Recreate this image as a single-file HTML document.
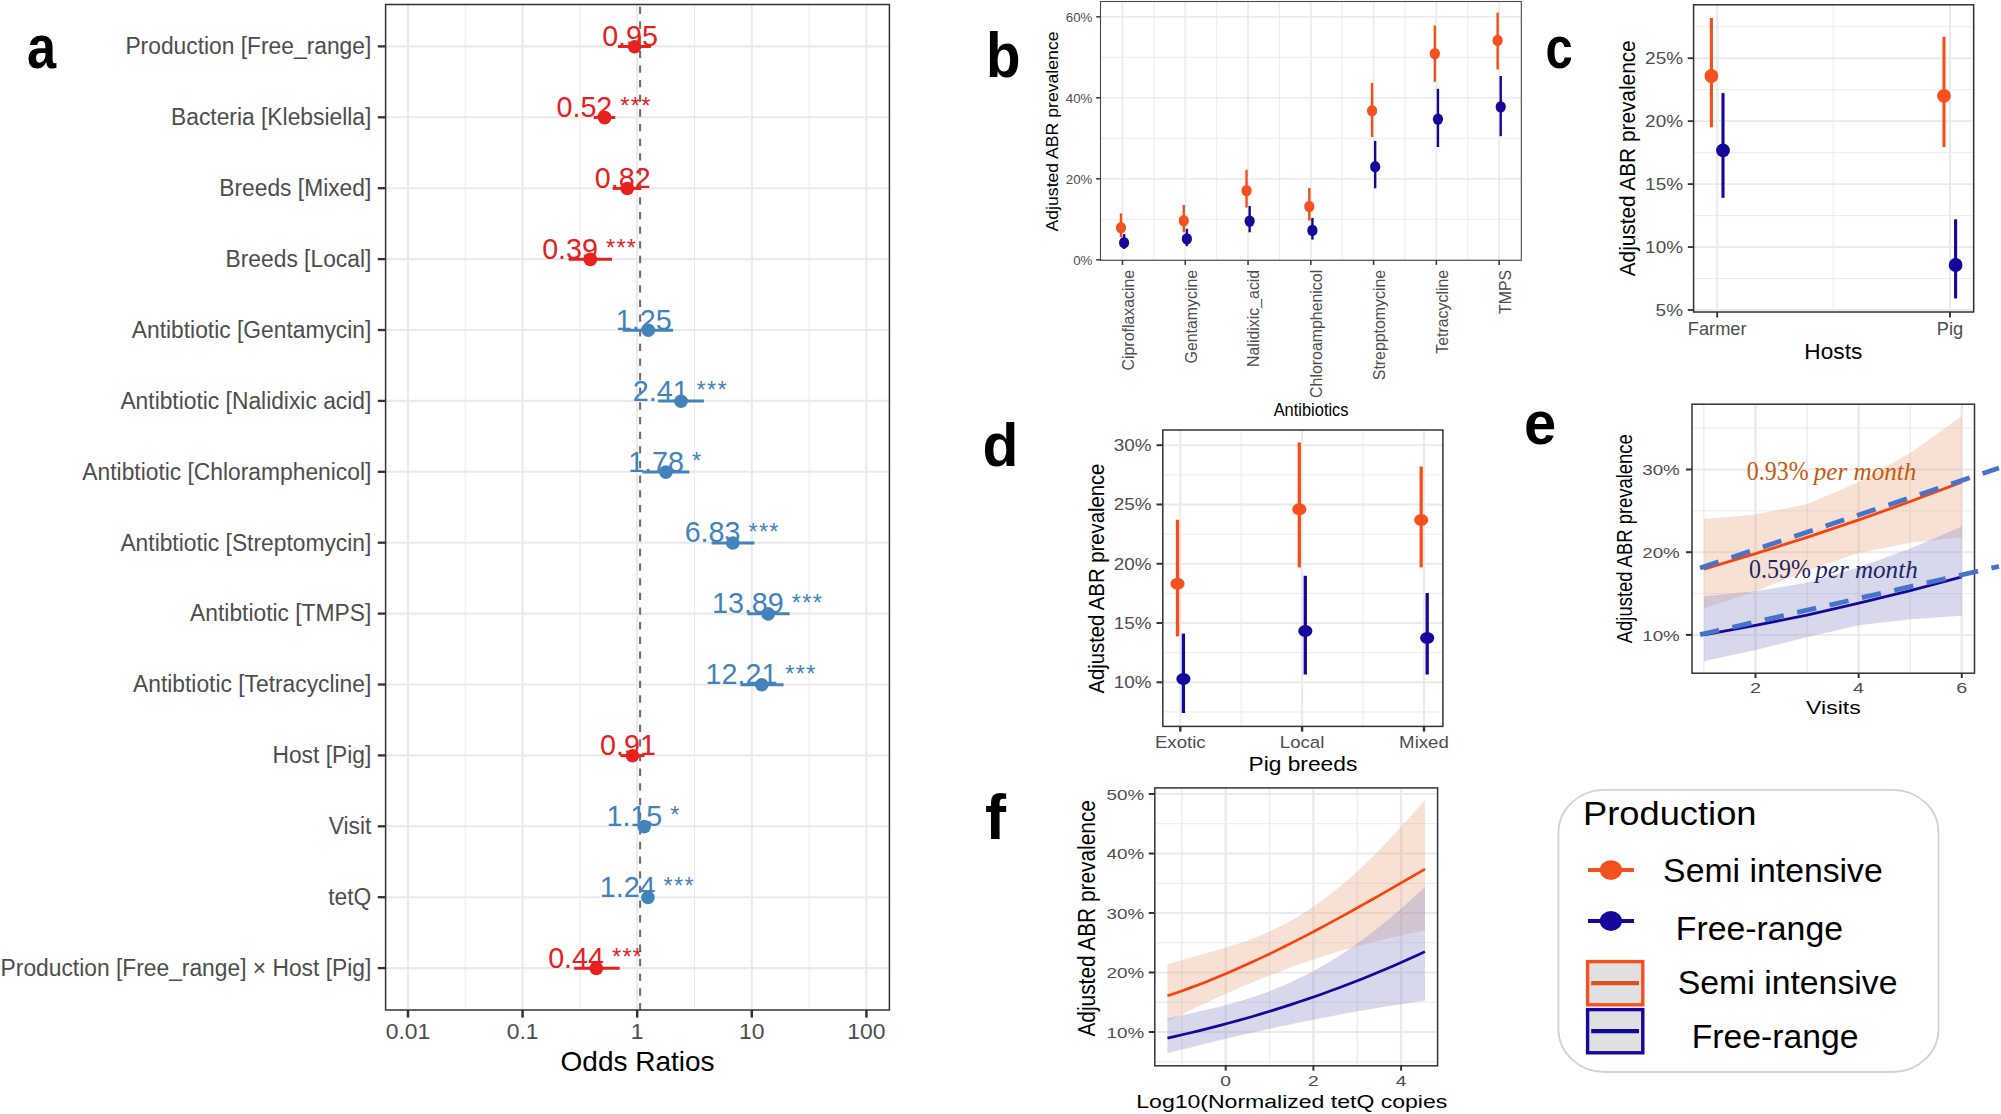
<!DOCTYPE html>
<html lang="en">
<head>
<meta charset="utf-8">
<title>Figure</title>
<style>
html,body{margin:0;padding:0;background:#fff;}
body{width:2001px;height:1114px;overflow:hidden;}
svg{display:block;font-family:"Liberation Sans", Arial, Helvetica, sans-serif;}
text{white-space:pre;}
</style>
</head>
<body>
<svg width="2001" height="1114" viewBox="0 0 2001 1114">
<rect width="2001" height="1114" fill="#ffffff"/>
<rect x="385.6" y="4.5" width="503.8" height="1005.5" fill="#fff"/>
<line x1="465.3" y1="4.5" x2="465.3" y2="1010" stroke="#eaeaea" stroke-width="1"/>
<line x1="579.9" y1="4.5" x2="579.9" y2="1010" stroke="#eaeaea" stroke-width="1"/>
<line x1="694.5" y1="4.5" x2="694.5" y2="1010" stroke="#eaeaea" stroke-width="1"/>
<line x1="809.1" y1="4.5" x2="809.1" y2="1010" stroke="#eaeaea" stroke-width="1"/>
<line x1="408" y1="4.5" x2="408" y2="1010" stroke="#eaeaea" stroke-width="2.1"/>
<line x1="522.6" y1="4.5" x2="522.6" y2="1010" stroke="#eaeaea" stroke-width="2.1"/>
<line x1="637.2" y1="4.5" x2="637.2" y2="1010" stroke="#eaeaea" stroke-width="2.1"/>
<line x1="751.8" y1="4.5" x2="751.8" y2="1010" stroke="#eaeaea" stroke-width="2.1"/>
<line x1="866.4" y1="4.5" x2="866.4" y2="1010" stroke="#eaeaea" stroke-width="2.1"/>
<line x1="385.6" y1="46.4" x2="889.4" y2="46.4" stroke="#eaeaea" stroke-width="2.1"/>
<line x1="385.6" y1="117.3" x2="889.4" y2="117.3" stroke="#eaeaea" stroke-width="2.1"/>
<line x1="385.6" y1="188.2" x2="889.4" y2="188.2" stroke="#eaeaea" stroke-width="2.1"/>
<line x1="385.6" y1="259.1" x2="889.4" y2="259.1" stroke="#eaeaea" stroke-width="2.1"/>
<line x1="385.6" y1="330" x2="889.4" y2="330" stroke="#eaeaea" stroke-width="2.1"/>
<line x1="385.6" y1="400.9" x2="889.4" y2="400.9" stroke="#eaeaea" stroke-width="2.1"/>
<line x1="385.6" y1="471.8" x2="889.4" y2="471.8" stroke="#eaeaea" stroke-width="2.1"/>
<line x1="385.6" y1="542.7" x2="889.4" y2="542.7" stroke="#eaeaea" stroke-width="2.1"/>
<line x1="385.6" y1="613.6" x2="889.4" y2="613.6" stroke="#eaeaea" stroke-width="2.1"/>
<line x1="385.6" y1="684.5" x2="889.4" y2="684.5" stroke="#eaeaea" stroke-width="2.1"/>
<line x1="385.6" y1="755.4" x2="889.4" y2="755.4" stroke="#eaeaea" stroke-width="2.1"/>
<line x1="385.6" y1="826.3" x2="889.4" y2="826.3" stroke="#eaeaea" stroke-width="2.1"/>
<line x1="385.6" y1="897.2" x2="889.4" y2="897.2" stroke="#eaeaea" stroke-width="2.1"/>
<line x1="385.6" y1="968.1" x2="889.4" y2="968.1" stroke="#eaeaea" stroke-width="2.1"/>
<line x1="640.1" y1="4.5" x2="640.1" y2="1010" stroke="#6f6f6f" stroke-width="2.1" stroke-dasharray="7.3 7.35" stroke-dashoffset="12.35"/>
<g font-size="28.7" text-anchor="middle">
<line x1="618" y1="46.6" x2="650.9" y2="46.6" stroke="#E6211E" stroke-width="3"/>
<circle cx="634.65" cy="46.7" r="6.8" fill="#E6211E"/>
<text x="634.05" y="46.1" fill="#E6211E" xml:space="preserve">0.95 </text>
<line x1="593.7" y1="117.5" x2="615.2" y2="117.5" stroke="#E6211E" stroke-width="3"/>
<circle cx="604.65" cy="117.6" r="6.8" fill="#E6211E"/>
<text x="604.05" y="117" fill="#E6211E" xml:space="preserve">0.52 <tspan font-size="23.5" letter-spacing="1.3" dy="-2.6">***</tspan></text>
<line x1="612.6" y1="188.4" x2="641.2" y2="188.4" stroke="#E6211E" stroke-width="3"/>
<circle cx="627.32" cy="188.5" r="6.8" fill="#E6211E"/>
<text x="626.72" y="187.9" fill="#E6211E" xml:space="preserve">0.82 </text>
<line x1="568.6" y1="259.3" x2="612" y2="259.3" stroke="#E6211E" stroke-width="3"/>
<circle cx="590.34" cy="259.4" r="6.8" fill="#E6211E"/>
<text x="589.74" y="258.8" fill="#E6211E" xml:space="preserve">0.39 <tspan font-size="23.5" letter-spacing="1.3" dy="-2.6">***</tspan></text>
<line x1="622.7" y1="330.2" x2="673.1" y2="330.2" stroke="#4383BB" stroke-width="3"/>
<circle cx="648.31" cy="330.3" r="6.8" fill="#4383BB"/>
<text x="647.71" y="329.7" fill="#4383BB" xml:space="preserve">1.25 </text>
<line x1="658.2" y1="401.1" x2="703.9" y2="401.1" stroke="#4383BB" stroke-width="3"/>
<circle cx="680.98" cy="401.2" r="6.8" fill="#4383BB"/>
<text x="680.38" y="400.6" fill="#4383BB" xml:space="preserve">2.41 <tspan font-size="23.5" letter-spacing="1.3" dy="-2.6">***</tspan></text>
<line x1="642.5" y1="472" x2="689.4" y2="472" stroke="#4383BB" stroke-width="3"/>
<circle cx="665.9" cy="472.1" r="6.8" fill="#4383BB"/>
<text x="665.3" y="471.5" fill="#4383BB" xml:space="preserve">1.78 <tspan font-size="23.5" letter-spacing="1.3" dy="-2.6">*</tspan></text>
<line x1="711.6" y1="542.9" x2="754.4" y2="542.9" stroke="#4383BB" stroke-width="3"/>
<circle cx="732.82" cy="543" r="6.8" fill="#4383BB"/>
<text x="732.22" y="542.4" fill="#4383BB" xml:space="preserve">6.83 <tspan font-size="23.5" letter-spacing="1.3" dy="-2.6">***</tspan></text>
<line x1="747.5" y1="613.8" x2="789.6" y2="613.8" stroke="#4383BB" stroke-width="3"/>
<circle cx="768.15" cy="613.9" r="6.8" fill="#4383BB"/>
<text x="767.55" y="613.3" fill="#4383BB" xml:space="preserve">13.89 <tspan font-size="23.5" letter-spacing="1.3" dy="-2.6">***</tspan></text>
<line x1="740.5" y1="684.7" x2="783.5" y2="684.7" stroke="#4383BB" stroke-width="3"/>
<circle cx="761.74" cy="684.8" r="6.8" fill="#4383BB"/>
<text x="761.14" y="684.2" fill="#4383BB" xml:space="preserve">12.21 <tspan font-size="23.5" letter-spacing="1.3" dy="-2.6">***</tspan></text>
<line x1="620.3" y1="755.6" x2="644.5" y2="755.6" stroke="#E6211E" stroke-width="3"/>
<circle cx="632.51" cy="755.7" r="6.8" fill="#E6211E"/>
<text x="631.91" y="755.1" fill="#E6211E" xml:space="preserve">0.91 </text>
<line x1="640.5" y1="826.5" x2="648" y2="826.5" stroke="#4383BB" stroke-width="3"/>
<circle cx="644.16" cy="826.6" r="6.8" fill="#4383BB"/>
<text x="643.56" y="826" fill="#4383BB" xml:space="preserve">1.15 <tspan font-size="23.5" letter-spacing="1.3" dy="-2.6">*</tspan></text>
<line x1="645" y1="897.4" x2="651" y2="897.4" stroke="#4383BB" stroke-width="3"/>
<circle cx="647.91" cy="897.5" r="6.8" fill="#4383BB"/>
<text x="647.31" y="896.9" fill="#4383BB" xml:space="preserve">1.24 <tspan font-size="23.5" letter-spacing="1.3" dy="-2.6">***</tspan></text>
<line x1="574.1" y1="968.3" x2="619.7" y2="968.3" stroke="#E6211E" stroke-width="3"/>
<circle cx="596.34" cy="968.4" r="6.8" fill="#E6211E"/>
<text x="595.74" y="967.8" fill="#E6211E" xml:space="preserve">0.44 <tspan font-size="23.5" letter-spacing="1.3" dy="-2.6">***</tspan></text>
</g>
<rect x="385.6" y="4.5" width="503.8" height="1005.5" fill="none" stroke="#333333" stroke-width="1.5"/>
<line x1="377.8" y1="46.4" x2="385.6" y2="46.4" stroke="#333333" stroke-width="2.3"/>
<text x="371.3" y="54.2" font-size="23.3" fill="#4d4d4d" text-anchor="end" textLength="245.88" lengthAdjust="spacingAndGlyphs">Production [Free_range]</text>
<line x1="377.8" y1="117.3" x2="385.6" y2="117.3" stroke="#333333" stroke-width="2.3"/>
<text x="371.3" y="125.1" font-size="23.3" fill="#4d4d4d" text-anchor="end" textLength="200.23" lengthAdjust="spacingAndGlyphs">Bacteria [Klebsiella]</text>
<line x1="377.8" y1="188.2" x2="385.6" y2="188.2" stroke="#333333" stroke-width="2.3"/>
<text x="371.3" y="196" font-size="23.3" fill="#4d4d4d" text-anchor="end" textLength="152.06" lengthAdjust="spacingAndGlyphs">Breeds [Mixed]</text>
<line x1="377.8" y1="259.1" x2="385.6" y2="259.1" stroke="#333333" stroke-width="2.3"/>
<text x="371.3" y="266.9" font-size="23.3" fill="#4d4d4d" text-anchor="end" textLength="145.75" lengthAdjust="spacingAndGlyphs">Breeds [Local]</text>
<line x1="377.8" y1="330" x2="385.6" y2="330" stroke="#333333" stroke-width="2.3"/>
<text x="371.3" y="337.8" font-size="23.3" fill="#4d4d4d" text-anchor="end" textLength="239.49" lengthAdjust="spacingAndGlyphs">Antibtiotic [Gentamycin]</text>
<line x1="377.8" y1="400.9" x2="385.6" y2="400.9" stroke="#333333" stroke-width="2.3"/>
<text x="371.3" y="408.7" font-size="23.3" fill="#4d4d4d" text-anchor="end" textLength="250.89" lengthAdjust="spacingAndGlyphs">Antibtiotic [Nalidixic acid]</text>
<line x1="377.8" y1="471.8" x2="385.6" y2="471.8" stroke="#333333" stroke-width="2.3"/>
<text x="371.3" y="479.6" font-size="23.3" fill="#4d4d4d" text-anchor="end" textLength="288.94" lengthAdjust="spacingAndGlyphs">Antibtiotic [Chloramphenicol]</text>
<line x1="377.8" y1="542.7" x2="385.6" y2="542.7" stroke="#333333" stroke-width="2.3"/>
<text x="371.3" y="550.5" font-size="23.3" fill="#4d4d4d" text-anchor="end" textLength="250.89" lengthAdjust="spacingAndGlyphs">Antibtiotic [Streptomycin]</text>
<line x1="377.8" y1="613.6" x2="385.6" y2="613.6" stroke="#333333" stroke-width="2.3"/>
<text x="371.3" y="621.4" font-size="23.3" fill="#4d4d4d" text-anchor="end" textLength="181.18" lengthAdjust="spacingAndGlyphs">Antibtiotic [TMPS]</text>
<line x1="377.8" y1="684.5" x2="385.6" y2="684.5" stroke="#333333" stroke-width="2.3"/>
<text x="371.3" y="692.3" font-size="23.3" fill="#4d4d4d" text-anchor="end" textLength="238.23" lengthAdjust="spacingAndGlyphs">Antibtiotic [Tetracycline]</text>
<line x1="377.8" y1="755.4" x2="385.6" y2="755.4" stroke="#333333" stroke-width="2.3"/>
<text x="371.3" y="763.2" font-size="23.3" fill="#4d4d4d" text-anchor="end" textLength="98.83" lengthAdjust="spacingAndGlyphs">Host [Pig]</text>
<line x1="377.8" y1="826.3" x2="385.6" y2="826.3" stroke="#333333" stroke-width="2.3"/>
<text x="371.3" y="834.1" font-size="23.3" fill="#4d4d4d" text-anchor="end" textLength="42.66" lengthAdjust="spacingAndGlyphs">Visit</text>
<line x1="377.8" y1="897.2" x2="385.6" y2="897.2" stroke="#333333" stroke-width="2.3"/>
<text x="371.3" y="905" font-size="23.3" fill="#4d4d4d" text-anchor="end" textLength="43.08" lengthAdjust="spacingAndGlyphs">tetQ</text>
<line x1="377.8" y1="968.1" x2="385.6" y2="968.1" stroke="#333333" stroke-width="2.3"/>
<text x="371.3" y="975.9" font-size="23.3" fill="#4d4d4d" text-anchor="end" textLength="370.69" lengthAdjust="spacingAndGlyphs">Production [Free_range] × Host [Pig]</text>
<g font-size="22.9" fill="#4d4d4d" text-anchor="middle">
<line x1="408" y1="1010" x2="408" y2="1017.6" stroke="#333333" stroke-width="2.5"/>
<text x="408" y="1038.6">0.01</text>
<line x1="522.6" y1="1010" x2="522.6" y2="1017.6" stroke="#333333" stroke-width="2.5"/>
<text x="522.6" y="1038.6">0.1</text>
<line x1="637.2" y1="1010" x2="637.2" y2="1017.6" stroke="#333333" stroke-width="2.5"/>
<text x="637.2" y="1038.6">1</text>
<line x1="751.8" y1="1010" x2="751.8" y2="1017.6" stroke="#333333" stroke-width="2.5"/>
<text x="751.8" y="1038.6">10</text>
<line x1="866.4" y1="1010" x2="866.4" y2="1017.6" stroke="#333333" stroke-width="2.5"/>
<text x="866.4" y="1038.6">100</text>
</g>
<text x="637.6" y="1070.9" font-size="28" fill="#000" text-anchor="middle">Odds Ratios</text>
<rect x="1100.5" y="1.5" width="420.8" height="258.8" fill="#fff"/>
<line x1="1153.88" y1="1.5" x2="1153.88" y2="260.3" stroke="#eaeaea" stroke-width="0.9"/>
<line x1="1216.65" y1="1.5" x2="1216.65" y2="260.3" stroke="#eaeaea" stroke-width="0.9"/>
<line x1="1279.42" y1="1.5" x2="1279.42" y2="260.3" stroke="#eaeaea" stroke-width="0.9"/>
<line x1="1342.19" y1="1.5" x2="1342.19" y2="260.3" stroke="#eaeaea" stroke-width="0.9"/>
<line x1="1404.96" y1="1.5" x2="1404.96" y2="260.3" stroke="#eaeaea" stroke-width="0.9"/>
<line x1="1467.73" y1="1.5" x2="1467.73" y2="260.3" stroke="#eaeaea" stroke-width="0.9"/>
<line x1="1100.5" y1="219.3" x2="1521.3" y2="219.3" stroke="#eaeaea" stroke-width="0.9"/>
<line x1="1100.5" y1="138.3" x2="1521.3" y2="138.3" stroke="#eaeaea" stroke-width="0.9"/>
<line x1="1100.5" y1="57.3" x2="1521.3" y2="57.3" stroke="#eaeaea" stroke-width="0.9"/>
<line x1="1122.5" y1="1.5" x2="1122.5" y2="260.3" stroke="#eaeaea" stroke-width="1.6"/>
<line x1="1185.27" y1="1.5" x2="1185.27" y2="260.3" stroke="#eaeaea" stroke-width="1.6"/>
<line x1="1248.04" y1="1.5" x2="1248.04" y2="260.3" stroke="#eaeaea" stroke-width="1.6"/>
<line x1="1310.81" y1="1.5" x2="1310.81" y2="260.3" stroke="#eaeaea" stroke-width="1.6"/>
<line x1="1373.58" y1="1.5" x2="1373.58" y2="260.3" stroke="#eaeaea" stroke-width="1.6"/>
<line x1="1436.35" y1="1.5" x2="1436.35" y2="260.3" stroke="#eaeaea" stroke-width="1.6"/>
<line x1="1499.12" y1="1.5" x2="1499.12" y2="260.3" stroke="#eaeaea" stroke-width="1.6"/>
<line x1="1100.5" y1="259.8" x2="1521.3" y2="259.8" stroke="#eaeaea" stroke-width="1.6"/>
<line x1="1100.5" y1="178.8" x2="1521.3" y2="178.8" stroke="#eaeaea" stroke-width="1.6"/>
<line x1="1100.5" y1="97.8" x2="1521.3" y2="97.8" stroke="#eaeaea" stroke-width="1.6"/>
<line x1="1100.5" y1="16.8" x2="1521.3" y2="16.8" stroke="#eaeaea" stroke-width="1.6"/>
<line x1="1121" y1="213.4" x2="1121" y2="237.3" stroke="#F64E1A" stroke-width="2.4"/>
<ellipse cx="1121" cy="227.7" rx="5.1" ry="5.7" fill="#F4511E"/>
<line x1="1124.1" y1="234.2" x2="1124.1" y2="248.9" stroke="#14079A" stroke-width="2.4"/>
<ellipse cx="1124.1" cy="242.7" rx="5.1" ry="5.7" fill="#14079A"/>
<line x1="1183.77" y1="204.9" x2="1183.77" y2="232.3" stroke="#F64E1A" stroke-width="2.4"/>
<ellipse cx="1183.77" cy="220.7" rx="5.1" ry="5.7" fill="#F4511E"/>
<line x1="1186.87" y1="228.8" x2="1186.87" y2="246.2" stroke="#14079A" stroke-width="2.4"/>
<ellipse cx="1186.87" cy="238.9" rx="5.1" ry="5.7" fill="#14079A"/>
<line x1="1246.54" y1="169.8" x2="1246.54" y2="207.6" stroke="#F64E1A" stroke-width="2.4"/>
<ellipse cx="1246.54" cy="190.6" rx="5.1" ry="5.7" fill="#F4511E"/>
<line x1="1249.64" y1="206" x2="1249.64" y2="232.3" stroke="#14079A" stroke-width="2.4"/>
<ellipse cx="1249.64" cy="221.1" rx="5.1" ry="5.7" fill="#14079A"/>
<line x1="1309.31" y1="188" x2="1309.31" y2="220.7" stroke="#F64E1A" stroke-width="2.4"/>
<ellipse cx="1309.31" cy="206.5" rx="5.1" ry="5.7" fill="#F4511E"/>
<line x1="1312.41" y1="218" x2="1312.41" y2="239.6" stroke="#14079A" stroke-width="2.4"/>
<ellipse cx="1312.41" cy="230.4" rx="5.1" ry="5.7" fill="#14079A"/>
<line x1="1372.08" y1="83" x2="1372.08" y2="137" stroke="#F64E1A" stroke-width="2.4"/>
<ellipse cx="1372.08" cy="110.8" rx="5.1" ry="5.7" fill="#F4511E"/>
<line x1="1375.18" y1="140.9" x2="1375.18" y2="188.3" stroke="#14079A" stroke-width="2.4"/>
<ellipse cx="1375.18" cy="166.7" rx="5.1" ry="5.7" fill="#14079A"/>
<line x1="1434.85" y1="25.5" x2="1434.85" y2="81.8" stroke="#F64E1A" stroke-width="2.4"/>
<ellipse cx="1434.85" cy="53.6" rx="5.1" ry="5.7" fill="#F4511E"/>
<line x1="1437.95" y1="88.8" x2="1437.95" y2="147" stroke="#14079A" stroke-width="2.4"/>
<ellipse cx="1437.95" cy="119.2" rx="5.1" ry="5.7" fill="#14079A"/>
<line x1="1497.62" y1="12.7" x2="1497.62" y2="69.5" stroke="#F64E1A" stroke-width="2.4"/>
<ellipse cx="1497.62" cy="40.5" rx="5.1" ry="5.7" fill="#F4511E"/>
<line x1="1500.72" y1="76" x2="1500.72" y2="136.2" stroke="#14079A" stroke-width="2.4"/>
<ellipse cx="1500.72" cy="106.9" rx="5.1" ry="5.7" fill="#14079A"/>
<rect x="1100.5" y="1.5" width="420.8" height="258.8" fill="none" stroke="#484848" stroke-width="1.1"/>
<g font-size="13.3" fill="#4d4d4d" text-anchor="end">
<line x1="1096.2" y1="259.8" x2="1100.5" y2="259.8" stroke="#333333" stroke-width="1.5"/>
<text x="1092.4" y="264.6">0%</text>
<line x1="1096.2" y1="178.8" x2="1100.5" y2="178.8" stroke="#333333" stroke-width="1.5"/>
<text x="1092.4" y="183.6">20%</text>
<line x1="1096.2" y1="97.8" x2="1100.5" y2="97.8" stroke="#333333" stroke-width="1.5"/>
<text x="1092.4" y="102.6">40%</text>
<line x1="1096.2" y1="16.8" x2="1100.5" y2="16.8" stroke="#333333" stroke-width="1.5"/>
<text x="1092.4" y="21.6">60%</text>
</g>
<line x1="1122.5" y1="260.3" x2="1122.5" y2="264.9" stroke="#333333" stroke-width="1.5"/>
<text transform="translate(1133.9 269.8) rotate(-90)" font-size="15.9" fill="#4d4d4d" text-anchor="end">Ciproflaxacine</text>
<line x1="1185.27" y1="260.3" x2="1185.27" y2="264.9" stroke="#333333" stroke-width="1.5"/>
<text transform="translate(1196.67 269.8) rotate(-90)" font-size="15.9" fill="#4d4d4d" text-anchor="end">Gentamycine</text>
<line x1="1248.04" y1="260.3" x2="1248.04" y2="264.9" stroke="#333333" stroke-width="1.5"/>
<text transform="translate(1259.44 269.8) rotate(-90)" font-size="15.9" fill="#4d4d4d" text-anchor="end">Nalidixic_acid</text>
<line x1="1310.81" y1="260.3" x2="1310.81" y2="264.9" stroke="#333333" stroke-width="1.5"/>
<text transform="translate(1322.21 269.8) rotate(-90)" font-size="15.9" fill="#4d4d4d" text-anchor="end">Chloroamphenicol</text>
<line x1="1373.58" y1="260.3" x2="1373.58" y2="264.9" stroke="#333333" stroke-width="1.5"/>
<text transform="translate(1384.98 269.8) rotate(-90)" font-size="15.9" fill="#4d4d4d" text-anchor="end">Strepptomycine</text>
<line x1="1436.35" y1="260.3" x2="1436.35" y2="264.9" stroke="#333333" stroke-width="1.5"/>
<text transform="translate(1447.75 269.8) rotate(-90)" font-size="15.9" fill="#4d4d4d" text-anchor="end">Tetracycline</text>
<line x1="1499.12" y1="260.3" x2="1499.12" y2="264.9" stroke="#333333" stroke-width="1.5"/>
<text transform="translate(1510.52 269.8) rotate(-90)" font-size="15.9" fill="#4d4d4d" text-anchor="end">TMPS</text>
<text transform="translate(1058.2 131.5) rotate(-90)" font-size="16.3" fill="#000" text-anchor="middle" textLength="200" lengthAdjust="spacingAndGlyphs">Adjusted ABR prevalence</text>
<text x="1311.1" y="416" font-size="17.6" fill="#000" text-anchor="middle" textLength="74.9" lengthAdjust="spacingAndGlyphs">Antibiotics</text>
<rect x="1693.6" y="4.8" width="280.1" height="307.2" fill="#fff"/>
<line x1="1833.2" y1="4.8" x2="1833.2" y2="312" stroke="#eaeaea" stroke-width="0.99"/>
<line x1="1693.6" y1="278.52" x2="1973.7" y2="278.52" stroke="#eaeaea" stroke-width="0.95"/>
<line x1="1693.6" y1="215.57" x2="1973.7" y2="215.57" stroke="#eaeaea" stroke-width="0.95"/>
<line x1="1693.6" y1="152.62" x2="1973.7" y2="152.62" stroke="#eaeaea" stroke-width="0.95"/>
<line x1="1693.6" y1="89.68" x2="1973.7" y2="89.68" stroke="#eaeaea" stroke-width="0.95"/>
<line x1="1693.6" y1="26.73" x2="1973.7" y2="26.73" stroke="#eaeaea" stroke-width="0.95"/>
<line x1="1717.2" y1="4.8" x2="1717.2" y2="312" stroke="#eaeaea" stroke-width="1.98"/>
<line x1="1950" y1="4.8" x2="1950" y2="312" stroke="#eaeaea" stroke-width="1.98"/>
<line x1="1693.6" y1="310" x2="1973.7" y2="310" stroke="#eaeaea" stroke-width="1.9"/>
<line x1="1693.6" y1="247.05" x2="1973.7" y2="247.05" stroke="#eaeaea" stroke-width="1.9"/>
<line x1="1693.6" y1="184.1" x2="1973.7" y2="184.1" stroke="#eaeaea" stroke-width="1.9"/>
<line x1="1693.6" y1="121.15" x2="1973.7" y2="121.15" stroke="#eaeaea" stroke-width="1.9"/>
<line x1="1693.6" y1="58.2" x2="1973.7" y2="58.2" stroke="#eaeaea" stroke-width="1.9"/>
<line x1="1711.4" y1="18" x2="1711.4" y2="127.2" stroke="#F64E1A" stroke-width="3.1"/>
<circle cx="1711.4" cy="76" r="6.9" fill="#F4511E"/>
<line x1="1723" y1="93.1" x2="1723" y2="197.8" stroke="#14079A" stroke-width="3.1"/>
<circle cx="1723" cy="150.4" r="6.9" fill="#14079A"/>
<line x1="1944" y1="36.8" x2="1944" y2="147" stroke="#F64E1A" stroke-width="3.1"/>
<circle cx="1944" cy="95.8" r="6.9" fill="#F4511E"/>
<line x1="1955.6" y1="219.3" x2="1955.6" y2="298.4" stroke="#14079A" stroke-width="3.1"/>
<circle cx="1955.6" cy="265" r="6.9" fill="#14079A"/>
<rect x="1693.6" y="4.8" width="280.1" height="307.2" fill="none" stroke="#333333" stroke-width="1.5"/>
<line x1="1687.8" y1="310" x2="1693.6" y2="310" stroke="#333333" stroke-width="1.8"/>
<text x="1683" y="316.2" font-size="16.9" fill="#4d4d4d" text-anchor="end" textLength="27.36" lengthAdjust="spacingAndGlyphs">5%</text>
<line x1="1687.8" y1="247.05" x2="1693.6" y2="247.05" stroke="#333333" stroke-width="1.8"/>
<text x="1683" y="253.25" font-size="16.9" fill="#4d4d4d" text-anchor="end" textLength="37.88" lengthAdjust="spacingAndGlyphs">10%</text>
<line x1="1687.8" y1="184.1" x2="1693.6" y2="184.1" stroke="#333333" stroke-width="1.8"/>
<text x="1683" y="190.3" font-size="16.9" fill="#4d4d4d" text-anchor="end" textLength="37.88" lengthAdjust="spacingAndGlyphs">15%</text>
<line x1="1687.8" y1="121.15" x2="1693.6" y2="121.15" stroke="#333333" stroke-width="1.8"/>
<text x="1683" y="127.35" font-size="16.9" fill="#4d4d4d" text-anchor="end" textLength="37.88" lengthAdjust="spacingAndGlyphs">20%</text>
<line x1="1687.8" y1="58.2" x2="1693.6" y2="58.2" stroke="#333333" stroke-width="1.8"/>
<text x="1683" y="64.4" font-size="16.9" fill="#4d4d4d" text-anchor="end" textLength="37.88" lengthAdjust="spacingAndGlyphs">25%</text>
<line x1="1717.2" y1="312" x2="1717.2" y2="317.5" stroke="#333333" stroke-width="1.9"/>
<text x="1717.2" y="334.7" font-size="17.7" fill="#4d4d4d" text-anchor="middle" textLength="58.75" lengthAdjust="spacingAndGlyphs">Farmer</text>
<line x1="1950" y1="312" x2="1950" y2="317.5" stroke="#333333" stroke-width="1.9"/>
<text x="1950" y="334.7" font-size="17.7" fill="#4d4d4d" text-anchor="middle" textLength="26.35" lengthAdjust="spacingAndGlyphs">Pig</text>
<text x="1833.3" y="358.5" font-size="21.8" fill="#000" text-anchor="middle" textLength="57.95" lengthAdjust="spacingAndGlyphs">Hosts</text>
<text transform="translate(1634.8 158.3) rotate(-90)" font-size="21.6" fill="#000" text-anchor="middle" textLength="236" lengthAdjust="spacingAndGlyphs">Adjusted ABR prevalence</text>
<rect x="1162.8" y="430" width="280.1" height="296.4" fill="#fff"/>
<line x1="1241.2" y1="430" x2="1241.2" y2="726.4" stroke="#eaeaea" stroke-width="1.04"/>
<line x1="1363.05" y1="430" x2="1363.05" y2="726.4" stroke="#eaeaea" stroke-width="1.04"/>
<line x1="1162.8" y1="711.94" x2="1442.9" y2="711.94" stroke="#eaeaea" stroke-width="0.95"/>
<line x1="1162.8" y1="652.66" x2="1442.9" y2="652.66" stroke="#eaeaea" stroke-width="0.95"/>
<line x1="1162.8" y1="593.39" x2="1442.9" y2="593.39" stroke="#eaeaea" stroke-width="0.95"/>
<line x1="1162.8" y1="534.11" x2="1442.9" y2="534.11" stroke="#eaeaea" stroke-width="0.95"/>
<line x1="1162.8" y1="474.84" x2="1442.9" y2="474.84" stroke="#eaeaea" stroke-width="0.95"/>
<line x1="1180.3" y1="430" x2="1180.3" y2="726.4" stroke="#eaeaea" stroke-width="2.09"/>
<line x1="1302.1" y1="430" x2="1302.1" y2="726.4" stroke="#eaeaea" stroke-width="2.09"/>
<line x1="1424" y1="430" x2="1424" y2="726.4" stroke="#eaeaea" stroke-width="2.09"/>
<line x1="1162.8" y1="682.3" x2="1442.9" y2="682.3" stroke="#eaeaea" stroke-width="1.9"/>
<line x1="1162.8" y1="623.02" x2="1442.9" y2="623.02" stroke="#eaeaea" stroke-width="1.9"/>
<line x1="1162.8" y1="563.75" x2="1442.9" y2="563.75" stroke="#eaeaea" stroke-width="1.9"/>
<line x1="1162.8" y1="504.47" x2="1442.9" y2="504.47" stroke="#eaeaea" stroke-width="1.9"/>
<line x1="1162.8" y1="445.2" x2="1442.9" y2="445.2" stroke="#eaeaea" stroke-width="1.9"/>
<line x1="1177.5" y1="519.8" x2="1177.5" y2="636.4" stroke="#F64E1A" stroke-width="3.3"/>
<ellipse cx="1177.5" cy="583.8" rx="7.1" ry="6" fill="#F4511E"/>
<line x1="1183.4" y1="633.6" x2="1183.4" y2="713" stroke="#14079A" stroke-width="3.3"/>
<ellipse cx="1183.4" cy="679.1" rx="7.1" ry="6" fill="#14079A"/>
<line x1="1299.3" y1="442.4" x2="1299.3" y2="567.4" stroke="#F64E1A" stroke-width="3.3"/>
<ellipse cx="1299.3" cy="509.3" rx="7.1" ry="6" fill="#F4511E"/>
<line x1="1305.3" y1="575.8" x2="1305.3" y2="674.5" stroke="#14079A" stroke-width="3.3"/>
<ellipse cx="1305.3" cy="631.1" rx="7.1" ry="6" fill="#14079A"/>
<line x1="1421.2" y1="466.5" x2="1421.2" y2="567.4" stroke="#F64E1A" stroke-width="3.3"/>
<ellipse cx="1421.2" cy="520.1" rx="7.1" ry="6" fill="#F4511E"/>
<line x1="1427.2" y1="593" x2="1427.2" y2="674.5" stroke="#14079A" stroke-width="3.3"/>
<ellipse cx="1427.2" cy="638.1" rx="7.1" ry="6" fill="#14079A"/>
<rect x="1162.8" y="430" width="280.1" height="296.4" fill="none" stroke="#333333" stroke-width="1.5"/>
<line x1="1156.5" y1="682.3" x2="1162.8" y2="682.3" stroke="#333333" stroke-width="2"/>
<text x="1151.6" y="688.2" font-size="16" fill="#4d4d4d" text-anchor="end" textLength="37.79" lengthAdjust="spacingAndGlyphs">10%</text>
<line x1="1156.5" y1="623.02" x2="1162.8" y2="623.02" stroke="#333333" stroke-width="2"/>
<text x="1151.6" y="628.92" font-size="16" fill="#4d4d4d" text-anchor="end" textLength="37.79" lengthAdjust="spacingAndGlyphs">15%</text>
<line x1="1156.5" y1="563.75" x2="1162.8" y2="563.75" stroke="#333333" stroke-width="2"/>
<text x="1151.6" y="569.65" font-size="16" fill="#4d4d4d" text-anchor="end" textLength="37.79" lengthAdjust="spacingAndGlyphs">20%</text>
<line x1="1156.5" y1="504.47" x2="1162.8" y2="504.47" stroke="#333333" stroke-width="2"/>
<text x="1151.6" y="510.37" font-size="16" fill="#4d4d4d" text-anchor="end" textLength="37.79" lengthAdjust="spacingAndGlyphs">25%</text>
<line x1="1156.5" y1="445.2" x2="1162.8" y2="445.2" stroke="#333333" stroke-width="2"/>
<text x="1151.6" y="451.1" font-size="16" fill="#4d4d4d" text-anchor="end" textLength="37.79" lengthAdjust="spacingAndGlyphs">30%</text>
<line x1="1180.3" y1="726.4" x2="1180.3" y2="731.6" stroke="#333333" stroke-width="2.4"/>
<text x="1180.3" y="747.8" font-size="17.1" fill="#4d4d4d" text-anchor="middle" textLength="50.76" lengthAdjust="spacingAndGlyphs">Exotic</text>
<line x1="1302.1" y1="726.4" x2="1302.1" y2="731.6" stroke="#333333" stroke-width="2.4"/>
<text x="1302.1" y="747.8" font-size="17.1" fill="#4d4d4d" text-anchor="middle" textLength="44.56" lengthAdjust="spacingAndGlyphs">Local</text>
<line x1="1424" y1="726.4" x2="1424" y2="731.6" stroke="#333333" stroke-width="2.4"/>
<text x="1424" y="747.8" font-size="17.1" fill="#4d4d4d" text-anchor="middle" textLength="49.72" lengthAdjust="spacingAndGlyphs">Mixed</text>
<text x="1302.9" y="771.4" font-size="19.7" fill="#000" text-anchor="middle" textLength="108.78" lengthAdjust="spacingAndGlyphs">Pig breeds</text>
<text transform="translate(1103.6 578.6) rotate(-90)" font-size="22.8" fill="#000" text-anchor="middle" textLength="230" lengthAdjust="spacingAndGlyphs">Adjusted ABR prevalence</text>
<rect x="1692" y="404.2" width="282.5" height="269" fill="#fff"/>
<line x1="1703.9" y1="404.2" x2="1703.9" y2="673.2" stroke="#eaeaea" stroke-width="1.25"/>
<line x1="1807.06" y1="404.2" x2="1807.06" y2="673.2" stroke="#eaeaea" stroke-width="1.25"/>
<line x1="1910.22" y1="404.2" x2="1910.22" y2="673.2" stroke="#eaeaea" stroke-width="1.25"/>
<line x1="1692" y1="593.55" x2="1974.5" y2="593.55" stroke="#eaeaea" stroke-width="1"/>
<line x1="1692" y1="510.85" x2="1974.5" y2="510.85" stroke="#eaeaea" stroke-width="1"/>
<line x1="1692" y1="428.15" x2="1974.5" y2="428.15" stroke="#eaeaea" stroke-width="1"/>
<line x1="1755.48" y1="404.2" x2="1755.48" y2="673.2" stroke="#eaeaea" stroke-width="2.38"/>
<line x1="1858.64" y1="404.2" x2="1858.64" y2="673.2" stroke="#eaeaea" stroke-width="2.38"/>
<line x1="1961.8" y1="404.2" x2="1961.8" y2="673.2" stroke="#eaeaea" stroke-width="2.38"/>
<line x1="1692" y1="634.9" x2="1974.5" y2="634.9" stroke="#eaeaea" stroke-width="1.9"/>
<line x1="1692" y1="552.2" x2="1974.5" y2="552.2" stroke="#eaeaea" stroke-width="1.9"/>
<line x1="1692" y1="469.5" x2="1974.5" y2="469.5" stroke="#eaeaea" stroke-width="1.9"/>
<polygon points="1703.96,518.92 1755.46,514.49 1806.96,504.26 1858.8,482.09 1910.3,453.1 1961.8,416.26 1961.8,537.34 1910.3,542.8 1858.8,553.03 1806.96,570.76 1755.46,591.23 1703.96,608.62" fill="#E8A583" fill-opacity="0.35"/>
<polygon points="1703.96,596.34 1755.46,591.23 1806.96,582.7 1858.8,567.35 1910.3,548.59 1961.8,526.43 1961.8,615.78 1910.3,619.2 1858.8,625.33 1806.96,637.27 1755.46,649.89 1703.96,661.15" fill="#8F90CC" fill-opacity="0.35"/>
<polyline points="1703.96,569.06 1755.46,553.71 1806.96,537.34 1858.8,519.95 1910.3,501.53 1961.8,482.09" fill="none" stroke="#F8420E" stroke-width="2.8"/>
<polyline points="1703.96,634.88 1755.46,625.33 1806.96,615.1 1858.8,603.17 1910.3,590.55 1961.8,576.9" fill="none" stroke="#14079A" stroke-width="2.8"/>
<rect x="1692" y="404.2" width="282.5" height="269" fill="none" stroke="#333333" stroke-width="1.5"/>
<line x1="1686" y1="634.9" x2="1692" y2="634.9" stroke="#333333" stroke-width="2"/>
<text x="1679.8" y="640.6" font-size="14.9" fill="#4d4d4d" text-anchor="end" textLength="37.58" lengthAdjust="spacingAndGlyphs">10%</text>
<line x1="1686" y1="552.2" x2="1692" y2="552.2" stroke="#333333" stroke-width="2"/>
<text x="1679.8" y="557.9" font-size="14.9" fill="#4d4d4d" text-anchor="end" textLength="37.58" lengthAdjust="spacingAndGlyphs">20%</text>
<line x1="1686" y1="469.5" x2="1692" y2="469.5" stroke="#333333" stroke-width="2"/>
<text x="1679.8" y="475.2" font-size="14.9" fill="#4d4d4d" text-anchor="end" textLength="37.58" lengthAdjust="spacingAndGlyphs">30%</text>
<line x1="1755.48" y1="673.2" x2="1755.48" y2="678" stroke="#333333" stroke-width="2"/>
<text x="1755.48" y="692.6" font-size="14.9" fill="#4d4d4d" text-anchor="middle" textLength="11.02" lengthAdjust="spacingAndGlyphs">2</text>
<line x1="1858.64" y1="673.2" x2="1858.64" y2="678" stroke="#333333" stroke-width="2"/>
<text x="1858.64" y="692.6" font-size="14.9" fill="#4d4d4d" text-anchor="middle" textLength="11.02" lengthAdjust="spacingAndGlyphs">4</text>
<line x1="1961.8" y1="673.2" x2="1961.8" y2="678" stroke="#333333" stroke-width="2"/>
<text x="1961.8" y="692.6" font-size="14.9" fill="#4d4d4d" text-anchor="middle" textLength="11.02" lengthAdjust="spacingAndGlyphs">6</text>
<text x="1833.4" y="714.1" font-size="17.7" fill="#000" text-anchor="middle" textLength="54.56" lengthAdjust="spacingAndGlyphs">Visits</text>
<text transform="translate(1632.2 538.7) rotate(-90)" font-size="22.8" fill="#000" text-anchor="middle" textLength="209" lengthAdjust="spacingAndGlyphs">Adjusted ABR prevalence</text>
<line x1="1700.06" y1="567.97" x2="1999" y2="468.04" stroke="#4674C8" stroke-width="4.8" stroke-dasharray="19.5 13.6"/>
<line x1="1700.06" y1="634.6" x2="1999" y2="566.41" stroke="#4674C8" stroke-width="4.8" stroke-dasharray="19.5 13.7"/>
<text x="1746.8" y="479.9" font-size="26.5" fill="#C55A11" textLength="61.8" lengthAdjust="spacingAndGlyphs" font-family='"Liberation Serif", "DejaVu Serif", serif'>0.93%</text>
<text x="1813.8" y="479.9" font-size="25.5" fill="#C55A11" textLength="102.5" lengthAdjust="spacingAndGlyphs" font-style="italic" font-family='"Liberation Serif", "DejaVu Serif", serif'>per month</text>
<text x="1749.1" y="577.7" font-size="26.5" fill="#1B2664" textLength="61.8" lengthAdjust="spacingAndGlyphs" font-family='"Liberation Serif", "DejaVu Serif", serif'>0.59%</text>
<text x="1815.2" y="577.7" font-size="25.5" fill="#1B2664" textLength="102.5" lengthAdjust="spacingAndGlyphs" font-style="italic" font-family='"Liberation Serif", "DejaVu Serif", serif'>per month</text>
<rect x="1154.8" y="787.9" width="282.8" height="277.9" fill="#fff"/>
<line x1="1181.85" y1="787.9" x2="1181.85" y2="1065.8" stroke="#eaeaea" stroke-width="1.25"/>
<line x1="1269.55" y1="787.9" x2="1269.55" y2="1065.8" stroke="#eaeaea" stroke-width="1.25"/>
<line x1="1357.25" y1="787.9" x2="1357.25" y2="1065.8" stroke="#eaeaea" stroke-width="1.25"/>
<line x1="1154.8" y1="1061.75" x2="1437.6" y2="1061.75" stroke="#eaeaea" stroke-width="1"/>
<line x1="1154.8" y1="1002.25" x2="1437.6" y2="1002.25" stroke="#eaeaea" stroke-width="1"/>
<line x1="1154.8" y1="942.75" x2="1437.6" y2="942.75" stroke="#eaeaea" stroke-width="1"/>
<line x1="1154.8" y1="883.25" x2="1437.6" y2="883.25" stroke="#eaeaea" stroke-width="1"/>
<line x1="1154.8" y1="823.75" x2="1437.6" y2="823.75" stroke="#eaeaea" stroke-width="1"/>
<line x1="1225.7" y1="787.9" x2="1225.7" y2="1065.8" stroke="#eaeaea" stroke-width="2.38"/>
<line x1="1313.4" y1="787.9" x2="1313.4" y2="1065.8" stroke="#eaeaea" stroke-width="2.38"/>
<line x1="1401.1" y1="787.9" x2="1401.1" y2="1065.8" stroke="#eaeaea" stroke-width="2.38"/>
<line x1="1154.8" y1="1032" x2="1437.6" y2="1032" stroke="#eaeaea" stroke-width="1.9"/>
<line x1="1154.8" y1="972.5" x2="1437.6" y2="972.5" stroke="#eaeaea" stroke-width="1.9"/>
<line x1="1154.8" y1="913" x2="1437.6" y2="913" stroke="#eaeaea" stroke-width="1.9"/>
<line x1="1154.8" y1="853.5" x2="1437.6" y2="853.5" stroke="#eaeaea" stroke-width="1.9"/>
<line x1="1154.8" y1="794" x2="1437.6" y2="794" stroke="#eaeaea" stroke-width="1.9"/>
<polygon points="1167.45,964.54 1175.25,962.02 1183.06,959.67 1190.86,957.44 1198.67,955.27 1206.47,953.12 1214.28,950.94 1222.08,948.69 1229.88,946.33 1237.69,943.83 1245.49,941.15 1253.3,938.26 1261.1,935.14 1268.91,931.76 1276.71,928.11 1284.52,924.15 1292.32,919.89 1300.13,915.3 1307.93,910.38 1315.74,905.12 1323.54,899.53 1331.34,893.59 1339.15,887.31 1346.95,880.71 1354.76,873.78 1362.56,866.54 1370.37,859.01 1378.17,851.2 1385.98,843.14 1393.78,834.84 1401.59,826.34 1409.39,817.67 1417.2,808.85 1425,799.93 1425,930.57 1417.2,932.04 1409.39,933.6 1401.59,935.24 1393.78,936.97 1385.98,938.78 1378.17,940.67 1370.37,942.65 1362.56,944.7 1354.76,946.84 1346.95,949.07 1339.15,951.37 1331.34,953.75 1323.54,956.22 1315.74,958.76 1307.93,961.38 1300.13,964.09 1292.32,966.87 1284.52,969.73 1276.71,972.67 1268.91,975.68 1261.1,978.78 1253.3,981.95 1245.49,985.2 1237.69,988.52 1229.88,991.92 1222.08,995.39 1214.28,998.95 1206.47,1002.57 1198.67,1006.27 1190.86,1010.04 1183.06,1013.89 1175.25,1017.81 1167.45,1021.8" fill="#E8A583" fill-opacity="0.35"/>
<polygon points="1167.45,1018.27 1175.25,1016.59 1183.06,1014.93 1190.86,1013.25 1198.67,1011.54 1206.47,1009.78 1214.28,1007.93 1222.08,1005.99 1229.88,1003.93 1237.69,1001.74 1245.49,999.41 1253.3,996.91 1261.1,994.24 1268.91,991.38 1276.71,988.32 1284.52,985.06 1292.32,981.58 1300.13,977.87 1307.93,973.94 1315.74,969.77 1323.54,965.36 1331.34,960.71 1339.15,955.82 1346.95,950.68 1354.76,945.31 1362.56,939.69 1370.37,933.84 1378.17,927.75 1385.98,921.44 1393.78,914.91 1401.59,908.17 1409.39,901.22 1417.2,894.09 1425,886.77 1425,1000.72 1417.2,1001.82 1409.39,1002.95 1401.59,1004.13 1393.78,1005.33 1385.98,1006.57 1378.17,1007.85 1370.37,1009.15 1362.56,1010.49 1354.76,1011.86 1346.95,1013.27 1339.15,1014.7 1331.34,1016.17 1323.54,1017.66 1315.74,1019.19 1307.93,1020.75 1300.13,1022.33 1292.32,1023.95 1284.52,1025.59 1276.71,1027.26 1268.91,1028.96 1261.1,1030.69 1253.3,1032.44 1245.49,1034.22 1237.69,1036.02 1229.88,1037.86 1222.08,1039.71 1214.28,1041.59 1206.47,1043.5 1198.67,1045.43 1190.86,1047.38 1183.06,1049.35 1175.25,1051.35 1167.45,1053.37" fill="#8F90CC" fill-opacity="0.35"/>
<polyline points="1167.45,995.8 1175.25,993.18 1183.06,990.46 1190.86,987.63 1198.67,984.69 1206.47,981.66 1214.28,978.53 1222.08,975.3 1229.88,971.99 1237.69,968.58 1245.49,965.1 1253.3,961.53 1261.1,957.89 1268.91,954.17 1276.71,950.38 1284.52,946.52 1292.32,942.6 1300.13,938.62 1307.93,934.58 1315.74,930.48 1323.54,926.33 1331.34,922.13 1339.15,917.89 1346.95,913.61 1354.76,909.28 1362.56,904.93 1370.37,900.53 1378.17,896.11 1385.98,891.67 1393.78,887.19 1401.59,882.7 1409.39,878.2 1417.2,873.68 1425,869.15" fill="none" stroke="#F8420E" stroke-width="2.7"/>
<polyline points="1167.45,1038.07 1175.25,1036.34 1183.06,1034.55 1190.86,1032.72 1198.67,1030.84 1206.47,1028.9 1214.28,1026.92 1222.08,1024.88 1229.88,1022.8 1237.69,1020.66 1245.49,1018.46 1253.3,1016.21 1261.1,1013.91 1268.91,1011.55 1276.71,1009.13 1284.52,1006.66 1292.32,1004.13 1300.13,1001.54 1307.93,998.89 1315.74,996.18 1323.54,993.41 1331.34,990.59 1339.15,987.69 1346.95,984.74 1354.76,981.72 1362.56,978.64 1370.37,975.49 1378.17,972.28 1385.98,969.01 1393.78,965.66 1401.59,962.25 1409.39,958.77 1417.2,955.22 1425,951.61" fill="none" stroke="#14079A" stroke-width="2.7"/>
<rect x="1154.8" y="787.9" width="282.8" height="277.9" fill="none" stroke="#333333" stroke-width="1.5"/>
<line x1="1148.8" y1="1032" x2="1154.8" y2="1032" stroke="#333333" stroke-width="2"/>
<text x="1144.1" y="1037.7" font-size="14.9" fill="#4d4d4d" text-anchor="end" textLength="37.58" lengthAdjust="spacingAndGlyphs">10%</text>
<line x1="1148.8" y1="972.5" x2="1154.8" y2="972.5" stroke="#333333" stroke-width="2"/>
<text x="1144.1" y="978.2" font-size="14.9" fill="#4d4d4d" text-anchor="end" textLength="37.58" lengthAdjust="spacingAndGlyphs">20%</text>
<line x1="1148.8" y1="913" x2="1154.8" y2="913" stroke="#333333" stroke-width="2"/>
<text x="1144.1" y="918.7" font-size="14.9" fill="#4d4d4d" text-anchor="end" textLength="37.58" lengthAdjust="spacingAndGlyphs">30%</text>
<line x1="1148.8" y1="853.5" x2="1154.8" y2="853.5" stroke="#333333" stroke-width="2"/>
<text x="1144.1" y="859.2" font-size="14.9" fill="#4d4d4d" text-anchor="end" textLength="37.58" lengthAdjust="spacingAndGlyphs">40%</text>
<line x1="1148.8" y1="794" x2="1154.8" y2="794" stroke="#333333" stroke-width="2"/>
<text x="1144.1" y="799.7" font-size="14.9" fill="#4d4d4d" text-anchor="end" textLength="37.58" lengthAdjust="spacingAndGlyphs">50%</text>
<line x1="1225.7" y1="1065.8" x2="1225.7" y2="1070.6" stroke="#333333" stroke-width="2"/>
<text x="1225.7" y="1085.9" font-size="14.7" fill="#4d4d4d" text-anchor="middle" textLength="10.71" lengthAdjust="spacingAndGlyphs">0</text>
<line x1="1313.4" y1="1065.8" x2="1313.4" y2="1070.6" stroke="#333333" stroke-width="2"/>
<text x="1313.4" y="1085.9" font-size="14.7" fill="#4d4d4d" text-anchor="middle" textLength="10.71" lengthAdjust="spacingAndGlyphs">2</text>
<line x1="1401.1" y1="1065.8" x2="1401.1" y2="1070.6" stroke="#333333" stroke-width="2"/>
<text x="1401.1" y="1085.9" font-size="14.7" fill="#4d4d4d" text-anchor="middle" textLength="10.71" lengthAdjust="spacingAndGlyphs">4</text>
<text x="1291.8" y="1107.6" font-size="17.9" fill="#000" text-anchor="middle" textLength="311" lengthAdjust="spacingAndGlyphs">Log10(Normalized tetQ copies</text>
<text transform="translate(1095 918.3) rotate(-90)" font-size="23.1" fill="#000" text-anchor="middle" textLength="236.5" lengthAdjust="spacingAndGlyphs">Adjusted ABR prevalence</text>
<rect x="1558.4" y="789.8" width="380.2" height="282.2" rx="46" ry="43" fill="#fff" stroke="#d1d3d2" stroke-width="1.8"/>
<text x="1583" y="825.3" font-size="33.3" fill="#000" textLength="173.5" lengthAdjust="spacingAndGlyphs">Production</text>
<line x1="1588" y1="870.1" x2="1634" y2="870.1" stroke="#F4511E" stroke-width="4"/>
<ellipse cx="1610.9" cy="870.1" rx="11.1" ry="9.9" fill="#F4511E"/>
<line x1="1588" y1="921" x2="1634" y2="921" stroke="#14079A" stroke-width="4"/>
<ellipse cx="1610.9" cy="921" rx="11.1" ry="9.9" fill="#14079A"/>
<text x="1663.1" y="882.3" font-size="32.6" fill="#000" textLength="219.7" lengthAdjust="spacingAndGlyphs">Semi intensive</text>
<text x="1675.8" y="940.3" font-size="32.8" fill="#000" textLength="167.2" lengthAdjust="spacingAndGlyphs">Free-range</text>
<rect x="1587.6" y="961.6" width="55.2" height="43.2" fill="#DFE0DF" stroke="#F4511E" stroke-width="3.4"/>
<line x1="1591.2" y1="983.1" x2="1639" y2="983.1" stroke="#DA5220" stroke-width="4.2"/>
<rect x="1587.6" y="1009.6" width="55.2" height="43.2" fill="#DFE0DF" stroke="#14079A" stroke-width="3.4"/>
<line x1="1591.2" y1="1031.2" x2="1639" y2="1031.2" stroke="#14079A" stroke-width="4.2"/>
<text x="1677.8" y="994.2" font-size="32.6" fill="#000" textLength="219.7" lengthAdjust="spacingAndGlyphs">Semi intensive</text>
<text x="1691.7" y="1047.5" font-size="32.8" fill="#000" textLength="166.8" lengthAdjust="spacingAndGlyphs">Free-range</text>
<text x="27" y="67.6" font-size="62" fill="#000" textLength="29.1" lengthAdjust="spacingAndGlyphs" font-weight="bold">a</text>
<text x="986" y="76.8" font-size="63.5" fill="#000" textLength="34.5" lengthAdjust="spacingAndGlyphs" font-weight="bold">b</text>
<text x="1545.5" y="67.8" font-size="60" fill="#000" textLength="27.2" lengthAdjust="spacingAndGlyphs" font-weight="bold">c</text>
<text x="982.5" y="466.2" font-size="61.5" fill="#000" textLength="35.9" lengthAdjust="spacingAndGlyphs" font-weight="bold">d</text>
<text x="1524.1" y="443.7" font-size="61" fill="#000" textLength="32.2" lengthAdjust="spacingAndGlyphs" font-weight="bold">e</text>
<text x="985" y="839" font-size="63.2" fill="#000" font-weight="bold">f</text>
</svg>
</body>
</html>
